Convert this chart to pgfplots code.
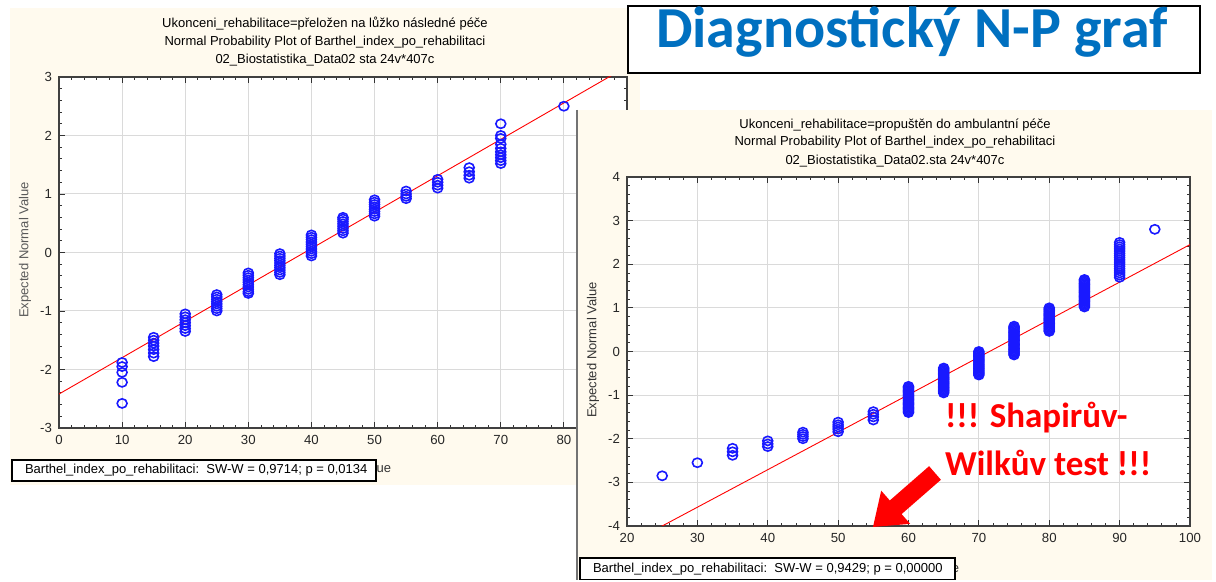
\documentclass[border=0pt]{standalone}
\usepackage{pgfplots}
\pgfplotsset{compat=1.18}
\usepackage{fontspec}
\setmainfont{Liberation Sans}
\newfontfamily\calibri{Carlito}
\definecolor{cream}{RGB}{255,250,238}
\definecolor{ptblue}{RGB}{25,25,255}
\definecolor{titleblue}{RGB}{0,112,192}
\definecolor{gridgray}{RGB}{218,218,218}
\pgfplotsset{
 npstyle/.style={
  scale only axis,
  axis background/.style={fill=white},
  grid=major,
  major grid style={gridgray, line width=0.5pt},
  minor x tick num=4, minor y tick num=4,
  tick align=inside,
  major tick length=3pt, minor tick length=1.6pt,
  every tick/.style={black!80, line width=0.4pt},
  axis line style={black!75, line width=0.6pt},
  tick label style={font=\fontsize{6.6}{7}\selectfont, text=black!85},
  /pgf/number format/assume math mode=true,
  /pgf/number format/1000 sep={},
 },
 ptstyle/.style={only marks, mark=o, mark size=2.3pt, ptblue, line width=0.8pt,
   mark options={xscale=1.08}},
 linestyle/.style={red, line width=0.45pt, no marks},
}
\begin{document}
\begin{tikzpicture}
\begin{scope}[x=0.5pt,y=-0.5pt]
  \useasboundingbox (0,0) rectangle (1216,575);
  \fill[white] (0,0) rectangle (1216,575);
  \fill[cream] (10,3) rectangle (640,480);
  \node[font=\fontsize{6.5}{7}\selectfont] at (325,19) {Ukonceni\_rehabilitace=přeložen na lůžko následné péče};
  \node[font=\fontsize{6.5}{7}\selectfont] at (325,37) {Normal Probability Plot of Barthel\_index\_po\_rehabilitaci};
  \node[font=\fontsize{6.5}{7}\selectfont] at (325,55) {02\_Biostatistika\_Data02 sta 24v*407c};
  \node[font=\fontsize{6.5}{7}\selectfont, text=black!65, rotate=90] at (25,245) {Expected Normal Value};
  \node[font=\fontsize{6.5}{7}\selectfont, text=black!80] at (345,463) {Observed Value};
\end{scope}

\begin{axis}[npstyle, at={(29.5pt,-211.5pt)}, anchor=south west,
  width=284pt, height=175.5pt,
  xmin=0, xmax=90, ymin=-3, ymax=3,
  xtick={0,10,...,90}, ytick={-3,-2,...,3}]
\addplot[linestyle] coordinates {(0,-2.42) (90,3.178)};
\addplot[ptstyle] table {
x y
10 -1.88
10 -1.95
10 -2.05
10 -2.22
10 -2.58
15 -1.45
15 -1.50
15 -1.55
15 -1.60
15 -1.66
15 -1.72
15 -1.78
20 -1.05
20 -1.10
20 -1.15
20 -1.20
20 -1.25
20 -1.30
20 -1.35
25 -0.72
25 -0.76
25 -0.80
25 -0.84
25 -0.88
25 -0.92
25 -0.96
25 -1.00
30 -0.35
30 -0.39
30 -0.43
30 -0.47
30 -0.51
30 -0.55
30 -0.59
30 -0.63
30 -0.67
30 -0.70
35 -0.02
35 -0.06
35 -0.10
35 -0.14
35 -0.18
35 -0.22
35 -0.26
35 -0.30
35 -0.34
35 -0.38
40 0.30
40 0.26
40 0.22
40 0.18
40 0.14
40 0.10
40 0.06
40 0.02
40 -0.02
40 -0.06
45 0.33
45 0.37
45 0.41
45 0.45
45 0.49
45 0.53
45 0.57
45 0.60
50 0.62
50 0.66
50 0.70
50 0.74
50 0.78
50 0.82
50 0.86
50 0.90
55 0.92
55 0.96
55 1.00
55 1.05
60 1.10
60 1.15
60 1.20
60 1.25
65 1.27
65 1.32
65 1.38
65 1.45
70 1.52
70 1.57
70 1.62
70 1.67
70 1.72
70 1.78
70 1.85
70 1.95
70 2.00
70 2.20
80 2.50
};
\end{axis}

\begin{scope}[x=0.5pt,y=-0.5pt]
  \draw[black, line width=0.6pt, fill=white] (12,455) rectangle (376,476);
  \node[anchor=west, font=\fontsize{6.5}{7}\selectfont] at (18,465.5) {Barthel\_index\_po\_rehabilitaci:\ \ SW-W = 0,9714; p = 0,0134};
  % right panel
  \fill[cream] (578,105) rectangle (1212,575);
  \draw[black!55, line width=1.4pt] (577,105) -- (577,575);
  \node[font=\fontsize{6.5}{7}\selectfont] at (895,120) {Ukonceni\_rehabilitace=propuštěn do ambulantní péče};
  \node[font=\fontsize{6.5}{7}\selectfont] at (895,137) {Normal Probability Plot of Barthel\_index\_po\_rehabilitaci};
  \node[font=\fontsize{6.5}{7}\selectfont] at (895,156) {02\_Biostatistika\_Data02.sta 24v*407c};
  \node[font=\fontsize{6.5}{7}\selectfont, text=black!80, rotate=90] at (593,345) {Expected Normal Value};
  \node[font=\fontsize{6.5}{7}\selectfont, text=black!80] at (913,563) {Observed Value};
\end{scope}

\begin{axis}[npstyle, at={(313.5pt,-260.5pt)}, anchor=south west,
  width=281.5pt, height=174.5pt,
  xmin=20, xmax=100, ymin=-4, ymax=4,
  xtick={20,30,...,100}, ytick={-4,-3,...,4}]
\addplot[linestyle] coordinates {(20,-4.43) (100,2.45)};
\addplot[ptstyle] table {
x y
25 -2.85
30 -2.55
35 -2.22
35 -2.30
35 -2.38
40 -2.05
40 -2.12
40 -2.18
45 -1.85
45 -1.90
45 -1.95
45 -2.00
50 -1.62
50 -1.68
50 -1.73
50 -1.78
50 -1.84
55 -1.38
55 -1.44
55 -1.50
55 -1.57
60 -0.80
60 -0.83
60 -0.86
60 -0.89
60 -0.92
60 -0.95
60 -0.98
60 -1.01
60 -1.04
60 -1.07
60 -1.10
60 -1.13
60 -1.16
60 -1.19
60 -1.22
60 -1.25
60 -1.28
60 -1.31
60 -1.34
60 -1.37
60 -1.40
65 -0.38
65 -0.41
65 -0.44
65 -0.47
65 -0.50
65 -0.53
65 -0.56
65 -0.59
65 -0.62
65 -0.65
65 -0.68
65 -0.71
65 -0.74
65 -0.77
65 -0.80
65 -0.83
65 -0.86
65 -0.89
65 -0.92
65 -0.95
70 0.00
70 -0.03
70 -0.06
70 -0.09
70 -0.12
70 -0.15
70 -0.18
70 -0.21
70 -0.24
70 -0.27
70 -0.30
70 -0.33
70 -0.36
70 -0.39
70 -0.42
70 -0.45
70 -0.48
70 -0.51
70 -0.54
75 0.58
75 0.55
75 0.52
75 0.49
75 0.46
75 0.43
75 0.40
75 0.37
75 0.34
75 0.31
75 0.28
75 0.25
75 0.22
75 0.19
75 0.16
75 0.13
75 0.10
75 0.07
75 0.04
75 0.01
75 -0.02
75 -0.05
75 -0.08
80 1.00
80 0.97
80 0.94
80 0.91
80 0.88
80 0.85
80 0.82
80 0.79
80 0.76
80 0.73
80 0.70
80 0.67
80 0.64
80 0.61
80 0.58
80 0.55
80 0.52
80 0.49
80 0.46
85 1.65
85 1.62
85 1.59
85 1.56
85 1.53
85 1.50
85 1.47
85 1.44
85 1.41
85 1.38
85 1.35
85 1.32
85 1.29
85 1.26
85 1.23
85 1.20
85 1.17
85 1.14
85 1.11
85 1.08
85 1.05
85 1.02
90 1.70
90 1.75
90 1.80
90 1.85
90 1.90
90 1.95
90 2.00
90 2.05
90 2.10
90 2.15
90 2.20
90 2.25
90 2.30
90 2.35
90 2.40
90 2.45
90 2.50
95 2.80
};
\end{axis}

\begin{scope}[x=0.5pt,y=-0.5pt]
  \draw[black, line width=0.6pt, fill=white] (580,553) rectangle (955,574.5);
  \node[anchor=west, font=\fontsize{6.5}{7}\selectfont] at (586,564) {Barthel\_index\_po\_rehabilitaci:\ \ SW-W = 0,9429; p = 0,00000};
  % annotation
  \node[anchor=west, text=red, font=\calibri\bfseries\fontsize{17.5}{20}\selectfont] at (938,413) {!!! Shapirův-};
  \node[anchor=west, text=red, font=\calibri\bfseries\fontsize{17.5}{20}\selectfont] at (938,458) {Wilkův test !!!};
  \fill[red] (940.9,474.8) -- (901.6,509.1) -- (910.2,518.9) -- (873,522) -- (881.2,485.7) -- (889.8,495.5) -- (929.1,461.2) -- cycle;
  % title box
  \draw[black, line width=1pt, fill=white] (628,1) rectangle (1200,68);
  \node[text=titleblue, font=\calibri\bfseries\fontsize{29}{34}\selectfont] at (912,27) {Diagnostický N-P graf};
\end{scope}
\end{tikzpicture}
\end{document}
